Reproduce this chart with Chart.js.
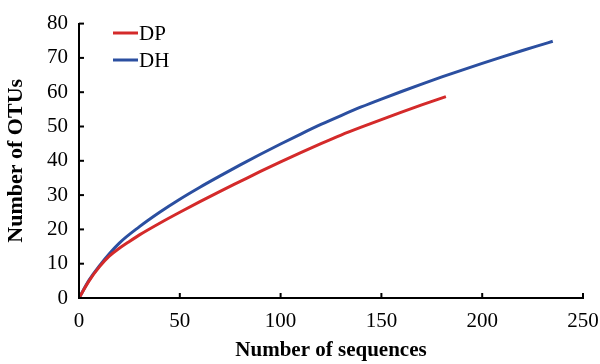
<!DOCTYPE html>
<html>
<head>
<meta charset="utf-8">
<script src="https://cdn.jsdelivr.net/npm/chart.js@4/dist/chart.umd.min.js"></script>
<style>
  html, body { margin: 0; padding: 0; background: #fff; }
  #wrap { width: 600px; height: 364px; }
</style>
</head>
<body>
<div id="wrap"><canvas id="chart" width="600" height="364"></canvas></div>
<script>
// data
const dpX = [0, 5, 10, 15, 20, 25, 30, 40, 50, 60, 70, 80, 90, 100, 110, 120, 130, 140, 150, 160, 170, 182];
const dpY = [0, 5, 9, 12.2, 14.5, 16.5, 18.4, 21.8, 25, 28.1, 31.1, 34, 36.9, 39.7, 42.4, 45, 47.5, 49.8, 52, 54.2, 56.3, 58.7];
const dhX = [0, 5, 10, 20, 30, 40, 50, 60, 70, 80, 90, 100, 110, 120, 130, 140, 150, 160, 170, 180, 190, 200, 210, 220, 230, 235];
const dhY = [0, 5.2, 9.3, 16, 20.8, 25, 28.8, 32.3, 35.6, 38.8, 41.9, 44.9, 47.8, 50.6, 53.2, 55.7, 58, 60.2, 62.35, 64.45, 66.45, 68.4, 70.3, 72.15, 73.95, 74.85];
const seriesNames = ['DP', 'DH'];
const seriesColors = ['#d42a2a', '#2b4fa0'];
const xTicks = [0, 50, 100, 150, 200, 250];
const yTicks = [0, 10, 20, 30, 40, 50, 60, 70, 80];

const FONT = "'Liberation Serif', 'Times New Roman', serif";

const toPoints = (xs, ys) => xs.map((x, i) => ({ x: x, y: ys[i] }));

// short ticks pointing into the plot
const innerTicks = {
  id: 'innerTicks',
  afterDraw(chart) {
    const { ctx, scales } = chart;
    const x = scales.x, y = scales.y;
    ctx.save();
    ctx.strokeStyle = '#000';
    ctx.lineWidth = 2;
    xTicks.forEach((v) => {
      const px = x.getPixelForValue(v);
      ctx.beginPath();
      ctx.moveTo(px, y.bottom);
      ctx.lineTo(px, y.bottom - 5);
      ctx.stroke();
    });
    yTicks.forEach((v) => {
      const py = y.getPixelForValue(v);
      ctx.beginPath();
      ctx.moveTo(x.left, py);
      ctx.lineTo(x.left + 5, py);
      ctx.stroke();
    });
    ctx.restore();
  }
};

// legend inside the plot, line sample then name
const insideLegend = {
  id: 'insideLegend',
  afterDraw(chart) {
    const { ctx } = chart;
    ctx.save();
    ctx.font = '21px ' + FONT;
    ctx.textBaseline = 'middle';
    chart.data.datasets.forEach((ds, i) => {
      const ly = 33 + i * 27;
      ctx.strokeStyle = ds.borderColor;
      ctx.lineWidth = 3;
      ctx.beginPath();
      ctx.moveTo(113, ly);
      ctx.lineTo(138, ly);
      ctx.stroke();
      ctx.fillStyle = '#000';
      ctx.fillText(ds.label, 139, ly + 1);
    });
    ctx.restore();
  }
};

const makeSet = (i, xs, ys) => ({
  label: seriesNames[i],
  data: toPoints(xs, ys),
  borderColor: seriesColors[i],
  backgroundColor: seriesColors[i],
  borderWidth: 3,
  pointRadius: 0,
  fill: false,
  cubicInterpolationMode: 'monotone'
});

new Chart(document.getElementById('chart'), {
  type: 'line',
  data: {
    datasets: [makeSet(0, dpX, dpY), makeSet(1, dhX, dhY)]
  },
  options: {
    responsive: false,
    animation: false,
    layout: { padding: { top: 19, right: 17, bottom: 0, left: 3 } },
    plugins: {
      legend: { display: false },
      tooltip: { enabled: false }
    },
    scales: {
      x: {
        type: 'linear',
        min: 0,
        max: 250,
        afterBuildTicks: (s) => { s.ticks = xTicks.map((v) => ({ value: v })); },
        afterFit: (s) => {
          s.height = 66;
          s.paddingLeft = 0;
          s.paddingRight = 0;
        },
        grid: { display: false, drawTicks: false },
        border: { display: true, color: '#000', width: 2 },
        ticks: {
          color: '#000',
          padding: 11,
          font: { family: FONT, size: 21 },
          maxRotation: 0
        },
        title: {
          display: true,
          text: 'Number of sequences',
          color: '#000',
          font: { family: FONT, size: 21, weight: 'bold' },
          padding: { top: 0, bottom: 1 }
        }
      },
      y: {
        min: 0,
        max: 80,
        afterBuildTicks: (s) => { s.ticks = yTicks.map((v) => ({ value: v })); },
        afterFit: (s) => { s.width = 76; },
        grid: { display: false, drawTicks: false },
        border: { display: true, color: '#000', width: 2 },
        ticks: {
          color: '#000',
          padding: 11,
          font: { family: FONT, size: 21 }
        },
        title: {
          display: true,
          text: 'Number of OTUs',
          color: '#000',
          font: { family: FONT, size: 22, weight: 'bold' },
          padding: { top: 0, bottom: 0 }
        }
      }
    }
  },
  plugins: [innerTicks, insideLegend]
});
</script>
</body>
</html>
